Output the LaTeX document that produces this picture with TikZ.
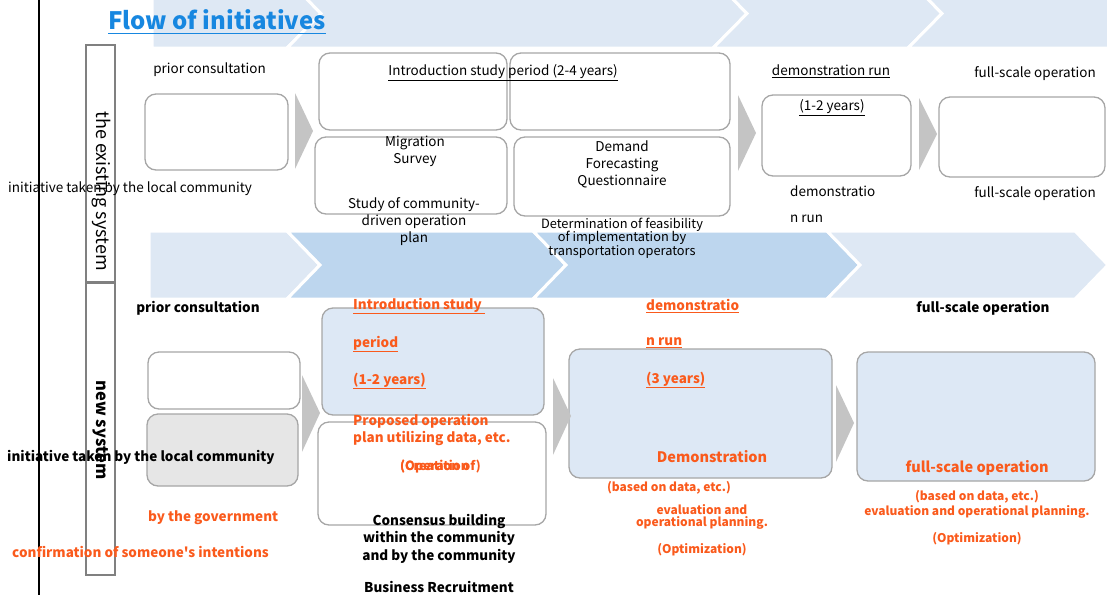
\documentclass[tikz,border=0pt]{standalone}
\usepackage{fontspec}
\setmainfont{Noto Sans CJK JP}[Ligatures=TeXOff]
\definecolor{bandlight}{HTML}{DEE8F4}
\definecolor{banddark}{HTML}{BDD6EE}
\definecolor{boxblue}{HTML}{DDE8F5}
\definecolor{boxgray}{HTML}{E6E6E6}
\definecolor{frame}{HTML}{A6A6A6}
\definecolor{sideframe}{HTML}{808080}
\definecolor{accent}{HTML}{FA5A1C}
\definecolor{titleblue}{HTML}{1787E0}
\definecolor{arrowgray}{HTML}{C4C4C4}
\tikzset{
  band/.style={draw=white, line width=3pt, line join=miter},
  stagebox/.style={draw=frame, line width=1.3pt, rounded corners=11pt, fill=white, inner sep=0pt},
  sidebox/.style={draw=sideframe, line width=1.4pt, fill=white, inner sep=0pt, minimum width=29pt},
  steparrow/.style={fill=arrowgray, draw=none},
  txt/.style={inner sep=0pt, yshift=-2pt, text=black, font=\fontsize{13.5}{17}\selectfont},
  btxt/.style={inner sep=0pt, yshift=-1.5pt, text=black, font=\fontsize{13.5}{17.5}\selectfont\bfseries},
  otxt/.style={inner sep=0pt, yshift=-2pt, text=accent, font=\fontsize{13.5}{17}\selectfont\bfseries},
  osmall/.style={inner sep=0pt, yshift=-2pt, text=accent, font=\fontsize{12}{14}\selectfont\bfseries},
  small/.style={inner sep=0pt, yshift=-1.5pt, text=black, font=\fontsize{12.8}{13.5}\selectfont},
}
\begin{document}
\begin{tikzpicture}[x=1pt,y=-1pt]
\useasboundingbox (0,0) rectangle (1107,595);

% background chevron bands
\begin{scope}
\clip (0,0) rectangle (1107,595);
% upper band
\path[band, fill=bandlight] (152,-21) -- (287,-21) -- (321,13.5) -- (287,48) -- (152,48) -- cycle;
\path[band, fill=bandlight] (287,-21) -- (713,-21) -- (747,13.5) -- (713,48) -- (287,48) -- (321,13.5) -- cycle;
\path[band, fill=bandlight] (713,-21) -- (908,-21) -- (942,13.5) -- (908,48) -- (713,48) -- (747,13.5) -- cycle;
\path[band, fill=bandlight] (908,-21) -- (1140,-21) -- (1140,48) -- (908,48) -- (942,13.5) -- cycle;
% middle band
\path[band, fill=bandlight] (149,231) -- (287,231) -- (320,265) -- (287,299) -- (149,299) -- cycle;
\path[band, fill=banddark] (287,231) -- (533,231) -- (566,265) -- (533,299) -- (287,299) -- (320,265) -- cycle;
\path[band, fill=banddark] (533,231) -- (827,231) -- (860,265) -- (827,299) -- (533,299) -- (566,265) -- cycle;
\path[band, fill=bandlight] (827,231) -- (1075,231) -- (1108,265) -- (1075,299) -- (827,299) -- (860,265) -- cycle;
\end{scope}

% left rule
\draw[line width=2pt] (39,0) -- (39,595);

% title
\node[inner sep=0pt, text=titleblue, font=\fontsize{24}{28}\selectfont\bfseries, anchor=west] (title) at (108,20) {Flow of initiatives};
\draw[titleblue, line width=1.5pt] (title.south west) ++(0,3) coordinate (tl) -- (tl -| title.south east);

% side labels
\node[sidebox, minimum height=237pt] (existing) at (100.5,163.5) {};
\node[sidebox, minimum height=293pt] (newsys) at (100.5,428.5) {};
\draw[sideframe, line width=3pt] (existing.south west) -- (existing.south east);
\node[inner sep=0pt, rotate=-90, font=\fontsize{18}{20}\selectfont] (existinglbl) at (101,191) {the existing system};
\node[inner sep=0pt, rotate=-90, font=\fontsize{16.5}{20}\selectfont\bfseries] (newlbl) at (101,430) {new system};

% ---------- the existing system ----------
\node[stagebox, minimum width=143pt, minimum height=76pt] (e1) at (216.5,132) {};
\node[stagebox, minimum width=188pt, minimum height=77pt] (e2) at (413,91.5) {};
\node[stagebox, minimum width=220pt, minimum height=77pt] (e3) at (620,91.5) {};
\node[stagebox, minimum width=192pt, minimum height=77pt] (e4) at (411,175.5) {};
\node[stagebox, minimum width=216pt, minimum height=79pt] (e5) at (622,176.5) {};
\node[stagebox, minimum width=149pt, minimum height=81pt] (e6) at (836.5,135.5) {};
\node[stagebox, minimum width=166pt, minimum height=80pt] (e7) at (1022,137) {};

\path[steparrow] (295,93) -- (313,131) -- (295,169) -- cycle;
\path[steparrow] (738,95) -- (756,133) -- (738,171) -- cycle;
\path[steparrow] (919,98) -- (937,134) -- (919,170) -- cycle;

\node[txt] (epc) at (209.5,68) {prior consultation};
\node[txt, anchor=west] (elocal) at (8,187) {initiative taken by the local community};
\node[txt] (eintro) at (503,71) {\underline{Introduction study period (2-4 years)}};
\node[txt, align=center] (emig) at (415,149.5) {Migration\\Survey};
\node[txt, align=center] (estudy) at (414,220) {Study of community-\\driven operation\\plan};
\node[txt, align=center] (edemand) at (622,162) {Demand\\Forecasting\\Questionnaire};
\node[small, align=center] (efeas) at (622,236.5) {Determination of feasibility\\of implementation by\\transportation operators};
\node[txt] (edemo) at (831,69) {\underline{demonstration run}};
\node[txt] (edemoyrs) at (832,106) {\underline{(1-2 years)}};
\node[txt, anchor=west] (edemoa) at (790,189) {demonstratio};
\node[txt, anchor=west] (edemob) at (790,217) {n run};
\node[txt] (efulla) at (1035,72) {full-scale operation};
\node[txt] (efullb) at (1035,192) {full-scale operation};

% ---------- new system ----------
\node[stagebox, minimum width=152pt, minimum height=57pt] (n1) at (224,380.5) {};
\node[stagebox, fill=boxgray, minimum width=151pt, minimum height=72pt] (n2) at (222.5,450) {};
\node[stagebox, fill=boxblue, minimum width=222pt, minimum height=107pt] (n3) at (433,361.5) {};
\node[stagebox, minimum width=228pt, minimum height=103pt] (n4) at (432,473.5) {};
\node[stagebox, fill=boxblue, minimum width=263pt, minimum height=129pt] (n5) at (700.5,413.5) {};
\node[stagebox, fill=boxblue, minimum width=238pt, minimum height=129pt] (n6) at (976,416.5) {};

\path[steparrow] (302,375) -- (320,413) -- (302,452) -- cycle;
\path[steparrow] (553,378) -- (571,416) -- (553,455) -- cycle;
\path[steparrow] (836,385) -- (854,423) -- (836,462) -- cycle;

\node[btxt] (npc) at (198,307) {prior consultation};
\node[btxt, anchor=west] (nlocal) at (7,456) {initiative taken by the local community};
\node[otxt, anchor=west] (ngov) at (148,516) {by the government};
\node[otxt, anchor=west] (nconf) at (12,550) {confirmation of someone's intentions};

\node[otxt, anchor=west] (nintroa) at (353,304) {\underline{Introduction study }};
\node[otxt, anchor=west] (nintrob) at (353,342) {\underline{period}};
\node[otxt, anchor=west] (nintroc) at (353,379) {\underline{(1-2 years)}};
\node[otxt, anchor=west, align=left] (nprop) at (353,428) {Proposed operation\\plan utilizing data, etc.};
\node[otxt, anchor=west, font=\fontsize{12.5}{15}\selectfont\bfseries] (ncreate) at (400,465) {(Creation of)};
\node[otxt, anchor=west, font=\fontsize{12.5}{15}\selectfont\bfseries] (noper) at (400,465) {(Operation};
\node[btxt, align=center] (nconsensus) at (439,537) {Consensus building\\within the community\\and by the community};
\node[btxt] (nbusiness) at (439,585) {Business Recruitment};

\node[otxt, anchor=west] (ndemoa) at (646,304) {\underline{demonstratio}};
\node[otxt, anchor=west] (ndemob) at (646,341) {\underline{n run}};
\node[otxt, anchor=west] (ndemoc) at (646,378) {\underline{(3 years)}};
\node[otxt, font=\fontsize{14.5}{17}\selectfont\bfseries] (ndemonstration) at (712,455) {Demonstration};
\node[osmall] (nbaseda) at (669,486) {(based on data, etc.)};
\node[osmall, align=center, font=\fontsize{12}{12.5}\selectfont\bfseries] (nevala) at (702,515) {evaluation and\\operational planning.};
\node[osmall] (nopta) at (702,548) {(Optimization)};

\node[btxt] (nfulltop) at (983,307) {full-scale operation};
\node[otxt, font=\fontsize{14.5}{17}\selectfont\bfseries] (nfull) at (977,466) {full-scale operation};
\node[osmall, align=center, font=\fontsize{12}{15}\selectfont\bfseries] (nevalb) at (977,502.5) {(based on data, etc.)\\evaluation and operational planning.};
\node[osmall] (noptb) at (977,537) {(Optimization)};
\end{tikzpicture}
\end{document}
